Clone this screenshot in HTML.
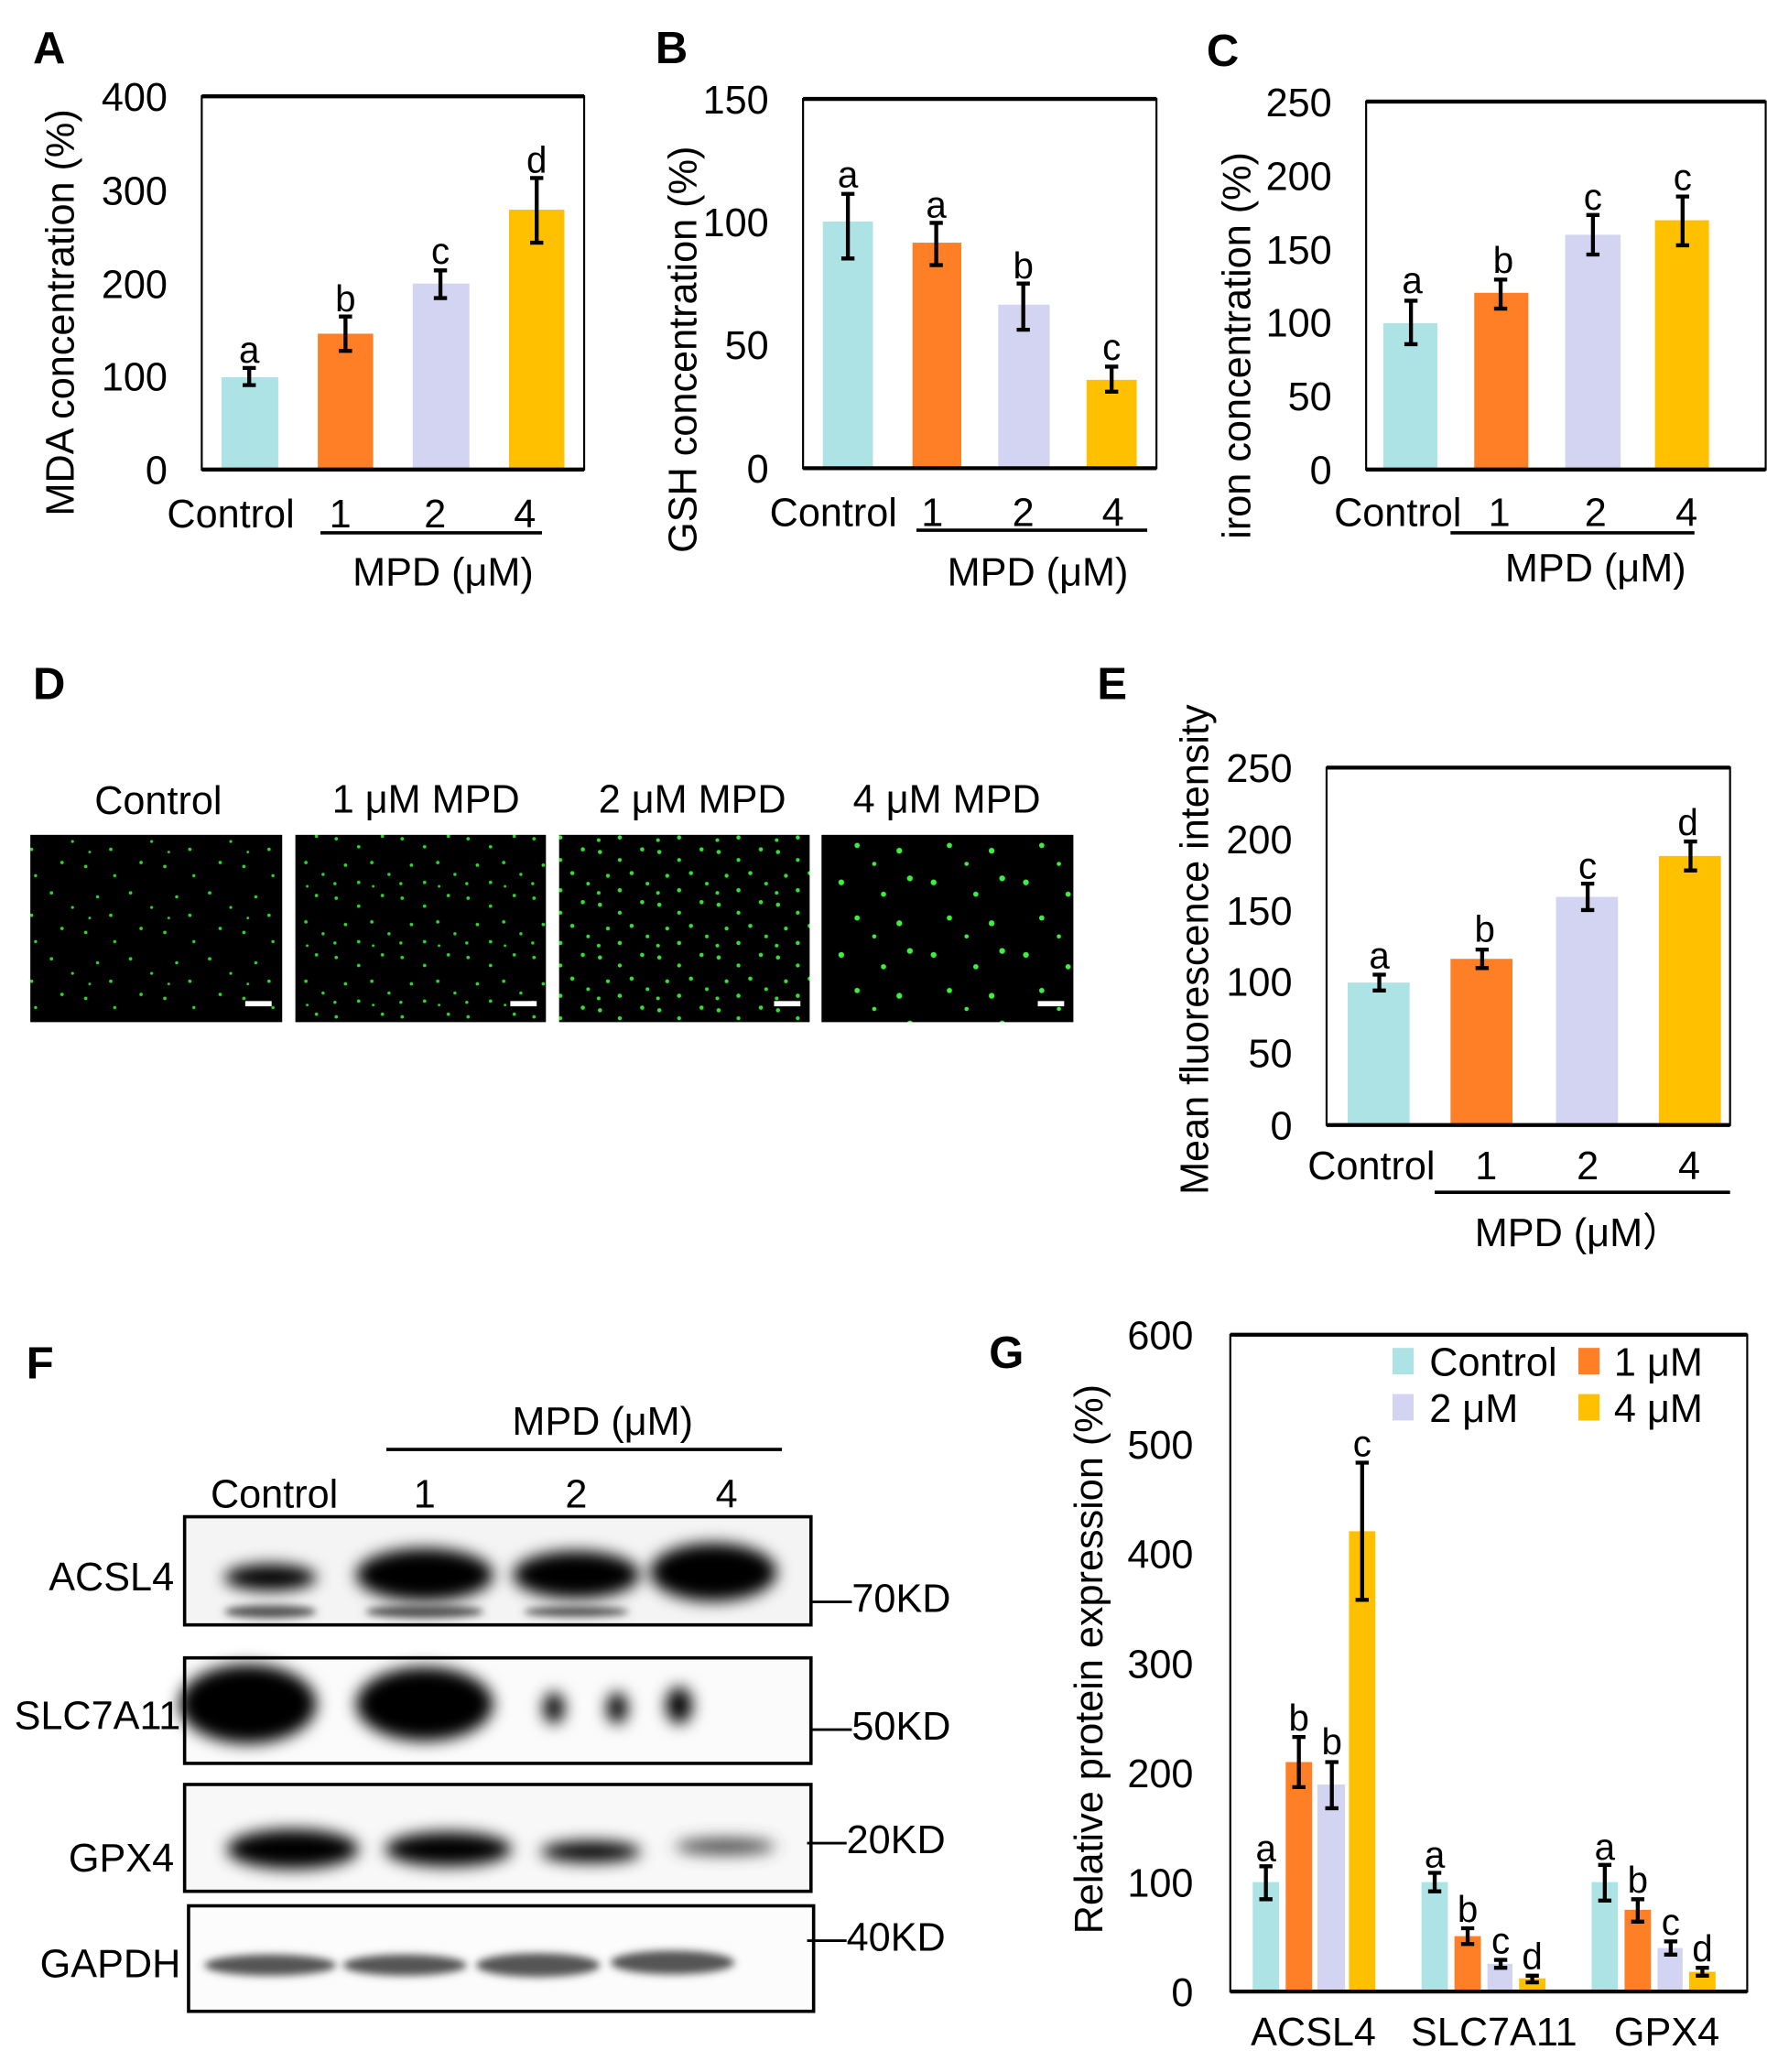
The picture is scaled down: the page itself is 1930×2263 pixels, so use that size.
<!DOCTYPE html>
<html><head><meta charset="utf-8"><style>
html,body{margin:0;padding:0;background:#fff}
svg{display:block}
text{font-family:"Liberation Sans",sans-serif;fill:#000}
</style></head><body>
<svg width="1930" height="2263" viewBox="0 0 1340 1571" preserveAspectRatio="none" xmlns="http://www.w3.org/2000/svg">
<defs>
<filter id="bl" x="-30%" y="-80%" width="160%" height="260%"><feGaussianBlur stdDeviation="6"/></filter>
<filter id="bl2" x="-30%" y="-80%" width="160%" height="260%"><feGaussianBlur stdDeviation="3"/></filter>
<pattern id="d1" width="60" height="50" patternUnits="userSpaceOnUse"><rect width="60" height="50" fill="#000"/><g fill="#2bd82b"><circle cx="5" cy="7" r="1.3"/><circle cx="27" cy="14" r="1.2"/><circle cx="47" cy="4" r="1.3"/><circle cx="14" cy="30" r="1.2"/><circle cx="39" cy="27" r="1.3"/><circle cx="55" cy="38" r="1.1"/><circle cx="24" cy="44" r="1.3"/><circle cx="8" cy="46" r="1"/></g></pattern>
<pattern id="d2" width="50" height="45" patternUnits="userSpaceOnUse"><rect width="50" height="45" fill="#000"/><g fill="#2bd82b"><circle cx="5" cy="6" r="1.3"/><circle cx="22" cy="12" r="1.3"/><circle cx="40" cy="4" r="1.3"/><circle cx="12" cy="26" r="1.3"/><circle cx="32" cy="24" r="1.3"/><circle cx="45" cy="33" r="1.2"/><circle cx="22" cy="39" r="1.3"/><circle cx="4" cy="40" r="1.2"/><circle cx="33" cy="42" r="1"/></g></pattern>
<pattern id="d3" width="45" height="40" patternUnits="userSpaceOnUse"><rect width="45" height="40" fill="#000"/><g fill="#33e033"><circle cx="5" cy="6" r="1.6"/><circle cx="20" cy="12" r="1.5"/><circle cx="37" cy="4" r="1.6"/><circle cx="11" cy="24" r="1.5"/><circle cx="29" cy="22" r="1.6"/><circle cx="41" cy="30" r="1.4"/><circle cx="20" cy="35" r="1.6"/><circle cx="4" cy="37" r="1.4"/></g></pattern>
<pattern id="d4" width="70" height="55" patternUnits="userSpaceOnUse"><rect width="70" height="55" fill="#000"/><g fill="#3ef03e"><circle cx="8" cy="9" r="2.2"/><circle cx="40" cy="18" r="2"/><circle cx="60" cy="6" r="2.2"/><circle cx="20" cy="36" r="2"/><circle cx="52" cy="40" r="2.2"/><circle cx="33" cy="50" r="1.6"/></g></pattern>
</defs>

<g font-weight="bold" font-size="34">
<text x="25" y="48">A</text><text x="497" y="48">B</text><text x="915" y="50">C</text>
<text x="25" y="530">D</text><text x="832" y="530">E</text><text x="20" y="1045">F</text><text x="750" y="1037">G</text>
</g>

<!-- Panel A -->
<g>
<rect x="168" y="286" width="43" height="70" fill="#ADE3E4"/>
<rect x="241" y="253" width="42" height="103" fill="#FF7F27"/>
<rect x="313" y="215" width="43" height="141" fill="#D3D3F2"/>
<rect x="386" y="159" width="42" height="197" fill="#FFC000"/>
<rect x="153" y="73" width="290" height="283" fill="none" stroke="#000" stroke-width="1.5"/>
<line x1="153" y1="73" x2="443" y2="73" stroke="#000" stroke-width="3"/><line x1="153" y1="356" x2="443" y2="356" stroke="#000" stroke-width="3"/>
<g stroke="#000" stroke-width="3"><path d="M189 279V292M184 279h10M184 292h10"/><path d="M262 240V266M257 240h10M257 266h10"/><path d="M334 205V226M329 205h10M329 226h10"/><path d="M407 135V184M402 135h10M402 184h10"/></g>
<g font-size="28" text-anchor="middle"><text x="189" y="275">a</text><text x="262" y="236">b</text><text x="334" y="200">c</text><text x="407" y="131">d</text></g>
<g font-size="30" text-anchor="end"><text x="127" y="84">400</text><text x="127" y="155">300</text><text x="127" y="226">200</text><text x="127" y="296">100</text><text x="127" y="367">0</text></g>
<text transform="translate(56,237) rotate(-90)" font-size="30" text-anchor="middle">MDA concentration (%)</text>
<g font-size="30" text-anchor="middle"><text x="175" y="400">Control</text><text x="258" y="400">1</text><text x="330" y="400">2</text><text x="398" y="400">4</text><text x="336" y="444">MPD (μM)</text></g>
<line x1="243" y1="404" x2="411" y2="404" stroke="#000" stroke-width="2.5"/>
</g>

<!-- Panel B -->
<g>
<rect x="624" y="168" width="38" height="187" fill="#ADE3E4"/>
<rect x="692" y="184" width="37" height="171" fill="#FF7F27"/>
<rect x="757" y="231" width="39" height="124" fill="#D3D3F2"/>
<rect x="824" y="288" width="38" height="67" fill="#FFC000"/>
<rect x="609" y="75" width="268" height="280" fill="none" stroke="#000" stroke-width="1.5"/>
<line x1="609" y1="75" x2="877" y2="75" stroke="#000" stroke-width="3"/><line x1="609" y1="355" x2="877" y2="355" stroke="#000" stroke-width="3"/>
<g stroke="#000" stroke-width="3"><path d="M643 147V196M638 147h10M638 196h10"/><path d="M710 169V201M705 169h10M705 201h10"/><path d="M776 215V250M771 215h10M771 250h10"/><path d="M843 278V297M838 278h10M838 297h10"/></g>
<g font-size="28" text-anchor="middle"><text x="643" y="142">a</text><text x="710" y="165">a</text><text x="776" y="211">b</text><text x="843" y="273">c</text></g>
<g font-size="30" text-anchor="end"><text x="583" y="86">150</text><text x="583" y="179">100</text><text x="583" y="272">50</text><text x="583" y="366">0</text></g>
<text transform="translate(528,265) rotate(-90)" font-size="30" text-anchor="middle">GSH concentration (%)</text>
<g font-size="30" text-anchor="middle"><text x="632" y="399">Control</text><text x="707" y="399">1</text><text x="776" y="399">2</text><text x="844" y="399">4</text><text x="787" y="444">MPD (μM)</text></g>
<line x1="695" y1="402" x2="870" y2="402" stroke="#000" stroke-width="2.5"/>
</g>

<!-- Panel C -->
<g>
<rect x="1049" y="245" width="41" height="111" fill="#ADE3E4"/>
<rect x="1118" y="222" width="41" height="134" fill="#FF7F27"/>
<rect x="1187" y="178" width="42" height="178" fill="#D3D3F2"/>
<rect x="1255" y="167" width="41" height="189" fill="#FFC000"/>
<rect x="1036" y="77" width="303" height="279" fill="none" stroke="#000" stroke-width="1.5"/>
<line x1="1036" y1="77" x2="1339" y2="77" stroke="#000" stroke-width="3"/><line x1="1036" y1="356" x2="1339" y2="356" stroke="#000" stroke-width="3"/>
<g stroke="#000" stroke-width="3"><path d="M1070 228V261M1065 228h10M1065 261h10"/><path d="M1138 212V234M1133 212h10M1133 234h10"/><path d="M1208 163V193M1203 163h10M1203 193h10"/><path d="M1276 149V186M1271 149h10M1271 186h10"/></g>
<g font-size="28" text-anchor="middle"><text x="1071" y="222">a</text><text x="1140" y="207">b</text><text x="1208" y="159">c</text><text x="1276" y="144">c</text></g>
<g font-size="30" text-anchor="end"><text x="1010" y="88">250</text><text x="1010" y="144">200</text><text x="1010" y="200">150</text><text x="1010" y="255">100</text><text x="1010" y="311">50</text><text x="1010" y="367">0</text></g>
<text transform="translate(948,262) rotate(-90)" font-size="30" text-anchor="middle">iron concentration (%)</text>
<g font-size="30" text-anchor="middle"><text x="1060" y="399">Control</text><text x="1137" y="399">1</text><text x="1210" y="399">2</text><text x="1279" y="399">4</text><text x="1210" y="441">MPD (μM)</text></g>
<line x1="1100" y1="404" x2="1285" y2="404" stroke="#000" stroke-width="2.5"/>
</g>

<!-- Panel D -->
<g>
<g font-size="30" text-anchor="middle"><text x="120" y="617">Control</text><text x="323" y="616">1 μM MPD</text><text x="525" y="616">2 μM MPD</text><text x="718" y="616">4 μM MPD</text></g>
<rect x="23" y="633" width="191" height="142" fill="url(#d1)"/>
<rect x="224" y="633" width="190" height="142" fill="url(#d2)"/>
<rect x="424" y="633" width="190" height="142" fill="url(#d3)"/>
<rect x="623" y="633" width="191" height="142" fill="url(#d4)"/>
<g fill="#fff"><rect x="186" y="759" width="20" height="4"/><rect x="387" y="759" width="20" height="4"/><rect x="587" y="759" width="20" height="4"/><rect x="787" y="759" width="20" height="4"/></g>
</g>

<!-- Panel E -->
<g>
<rect x="1022" y="745" width="47" height="108" fill="#ADE3E4"/>
<rect x="1100" y="727" width="47" height="126" fill="#FF7F27"/>
<rect x="1180" y="680" width="47" height="173" fill="#D3D3F2"/>
<rect x="1258" y="649" width="47" height="204" fill="#FFC000"/>
<rect x="1006" y="582" width="306" height="271" fill="none" stroke="#000" stroke-width="1.5"/>
<line x1="1006" y1="582" x2="1312" y2="582" stroke="#000" stroke-width="3"/><line x1="1006" y1="853" x2="1312" y2="853" stroke="#000" stroke-width="3"/>
<g stroke="#000" stroke-width="3"><path d="M1046 739V751M1041 739h10M1041 751h10"/><path d="M1124 720V734M1119 720h10M1119 734h10"/><path d="M1204 670V690M1199 670h10M1199 690h10"/><path d="M1282 638V660M1277 638h10M1277 660h10"/></g>
<g font-size="28" text-anchor="middle"><text x="1046" y="734">a</text><text x="1126" y="714">b</text><text x="1204" y="666">c</text><text x="1280" y="633">d</text></g>
<g font-size="30" text-anchor="end"><text x="980" y="593">250</text><text x="980" y="647">200</text><text x="980" y="701">150</text><text x="980" y="755">100</text><text x="980" y="809">50</text><text x="980" y="864">0</text></g>
<text transform="translate(916,720) rotate(-90)" font-size="30" text-anchor="middle">Mean fluorescence intensity</text>
<g font-size="30" text-anchor="middle"><text x="1040" y="894">Control</text><text x="1127" y="894">1</text><text x="1204" y="894">2</text><text x="1281" y="894">4</text><text x="1197" y="945">MPD (μM）</text></g>
<line x1="1088" y1="904" x2="1312" y2="904" stroke="#000" stroke-width="2.5"/>
</g>

<!-- Panel F -->
<g>
<text x="457" y="1088" font-size="30" text-anchor="middle">MPD (μM)</text>
<line x1="293" y1="1099" x2="593" y2="1099" stroke="#000" stroke-width="2.5"/>
<g font-size="30" text-anchor="middle"><text x="208" y="1143">Control</text><text x="322" y="1143">1</text><text x="437" y="1143">2</text><text x="551" y="1143">4</text></g>
<rect x="140" y="1150" width="475" height="82" fill="#f4f4f4"/>
<g filter="url(#bl)" fill="#000"><ellipse cx="205" cy="1196" rx="35" ry="10"/><ellipse cx="322" cy="1194" rx="52" ry="20"/><ellipse cx="437" cy="1194" rx="48" ry="18"/><ellipse cx="541" cy="1192" rx="48" ry="22"/></g>
<g filter="url(#bl2)" fill="#555"><ellipse cx="205" cy="1222" rx="35" ry="5"/><ellipse cx="322" cy="1222" rx="45" ry="5"/><ellipse cx="437" cy="1222" rx="40" ry="4"/></g>
<rect x="140" y="1150" width="475" height="82" fill="none" stroke="#000" stroke-width="2.5"/>
<rect x="140" y="1257" width="475" height="80" fill="#fbfbfb"/>
<g filter="url(#bl)" fill="#000"><ellipse cx="188" cy="1292" rx="52" ry="30"/><ellipse cx="322" cy="1292" rx="52" ry="28"/><ellipse cx="420" cy="1295" rx="8" ry="12"/><ellipse cx="468" cy="1295" rx="8" ry="12"/><ellipse cx="515" cy="1293" rx="10" ry="14"/></g>
<rect x="140" y="1257" width="475" height="80" fill="none" stroke="#000" stroke-width="2.5"/>
<rect x="140" y="1353" width="475" height="81" fill="#f8f8f8"/>
<g filter="url(#bl)" fill="#000"><ellipse cx="222" cy="1402" rx="50" ry="15"/><ellipse cx="340" cy="1402" rx="48" ry="13"/><ellipse cx="448" cy="1404" rx="38" ry="8"/><ellipse cx="550" cy="1400" rx="38" ry="6" fill="#444"/></g>
<rect x="140" y="1353" width="475" height="81" fill="none" stroke="#000" stroke-width="2.5"/>
<rect x="143" y="1445" width="474" height="80" fill="#fcfcfc"/>
<g filter="url(#bl2)" fill="#555"><ellipse cx="205" cy="1490" rx="50" ry="8"/><ellipse cx="307" cy="1490" rx="47" ry="8"/><ellipse cx="408" cy="1490" rx="47" ry="9"/><ellipse cx="510" cy="1488" rx="47" ry="9"/></g>
<rect x="143" y="1445" width="474" height="80" fill="none" stroke="#000" stroke-width="2.5"/>
<g font-size="30" text-anchor="end"><text x="132" y="1206">ACSL4</text><text x="137" y="1311">SLC7A11</text><text x="132" y="1419">GPX4</text><text x="137" y="1499">GAPDH</text></g>
<g font-size="30"><text x="616" y="1222">—70KD</text><text x="616" y="1319">—50KD</text><text x="612" y="1405">—20KD</text><text x="612" y="1479">—40KD</text></g>
</g>

<!-- Panel G -->
<g>
<rect x="950" y="1427" width="20" height="83" fill="#ADE3E4"/>
<rect x="975" y="1336" width="20" height="174" fill="#FF7F27"/>
<rect x="999" y="1353" width="21" height="157" fill="#D3D3F2"/>
<rect x="1023" y="1161" width="20" height="349" fill="#FFC000"/>
<rect x="1078" y="1427" width="20" height="83" fill="#ADE3E4"/>
<rect x="1103" y="1468" width="20" height="42" fill="#FF7F27"/>
<rect x="1128" y="1489" width="19" height="21" fill="#D3D3F2"/>
<rect x="1152" y="1500" width="20" height="10" fill="#FFC000"/>
<rect x="1207" y="1427" width="20" height="83" fill="#ADE3E4"/>
<rect x="1232" y="1448" width="20" height="62" fill="#FF7F27"/>
<rect x="1257" y="1477" width="19" height="33" fill="#D3D3F2"/>
<rect x="1281" y="1495" width="20" height="15" fill="#FFC000"/>
<rect x="933" y="1012" width="392" height="498" fill="none" stroke="#000" stroke-width="1.5"/>
<line x1="933" y1="1012" x2="1325" y2="1012" stroke="#000" stroke-width="3"/><line x1="933" y1="1510" x2="1325" y2="1510" stroke="#000" stroke-width="3"/>
<g stroke="#000" stroke-width="3">
<path d="M960 1415V1440M955 1415h10M955 1440h10"/><path d="M985 1317V1355M980 1317h10M980 1355h10"/><path d="M1010 1336V1371M1005 1336h10M1005 1371h10"/><path d="M1033 1109V1213M1028 1109h10M1028 1213h10"/>
<path d="M1088 1420V1434M1083 1420h10M1083 1434h10"/><path d="M1113 1462V1474M1108 1462h10M1108 1474h10"/><path d="M1138 1486V1492M1133 1486h10M1133 1492h10"/><path d="M1162 1498V1503M1157 1498h10M1157 1503h10"/>
<path d="M1217 1414V1441M1212 1414h10M1212 1441h10"/><path d="M1242 1440V1457M1237 1440h10M1237 1457h10"/><path d="M1267 1472V1482M1262 1472h10M1262 1482h10"/><path d="M1291 1492V1498M1286 1492h10M1286 1498h10"/></g>
<g font-size="28" text-anchor="middle"><text x="960" y="1411">a</text><text x="985" y="1312">b</text><text x="1010" y="1330">b</text><text x="1033" y="1104">c</text>
<text x="1088" y="1416">a</text><text x="1113" y="1457">b</text><text x="1138" y="1481">c</text><text x="1162" y="1493">d</text>
<text x="1217" y="1410">a</text><text x="1242" y="1435">b</text><text x="1267" y="1467">c</text><text x="1291" y="1487">d</text></g>
<g font-size="30" text-anchor="end"><text x="905" y="1023">600</text><text x="905" y="1106">500</text><text x="905" y="1189">400</text><text x="905" y="1272">300</text><text x="905" y="1355">200</text><text x="905" y="1438">100</text><text x="905" y="1521">0</text></g>
<text transform="translate(836,1258) rotate(-90)" font-size="30" text-anchor="middle">Relative protein expression (%)</text>
<g font-size="30" text-anchor="middle"><text x="996" y="1551">ACSL4</text><text x="1133" y="1551">SLC7A11</text><text x="1264" y="1551">GPX4</text></g>
<rect x="1056" y="1022" width="16" height="20" fill="#ADE3E4"/><text x="1084" y="1043" font-size="30">Control</text>
<rect x="1197" y="1022" width="16" height="20" fill="#FF7F27"/><text x="1224" y="1043" font-size="30">1 μM</text>
<rect x="1056" y="1057" width="16" height="20" fill="#D3D3F2"/><text x="1084" y="1078" font-size="30">2 μM</text>
<rect x="1197" y="1057" width="16" height="20" fill="#FFC000"/><text x="1224" y="1078" font-size="30">4 μM</text>
</g>
</svg>
</body></html>
